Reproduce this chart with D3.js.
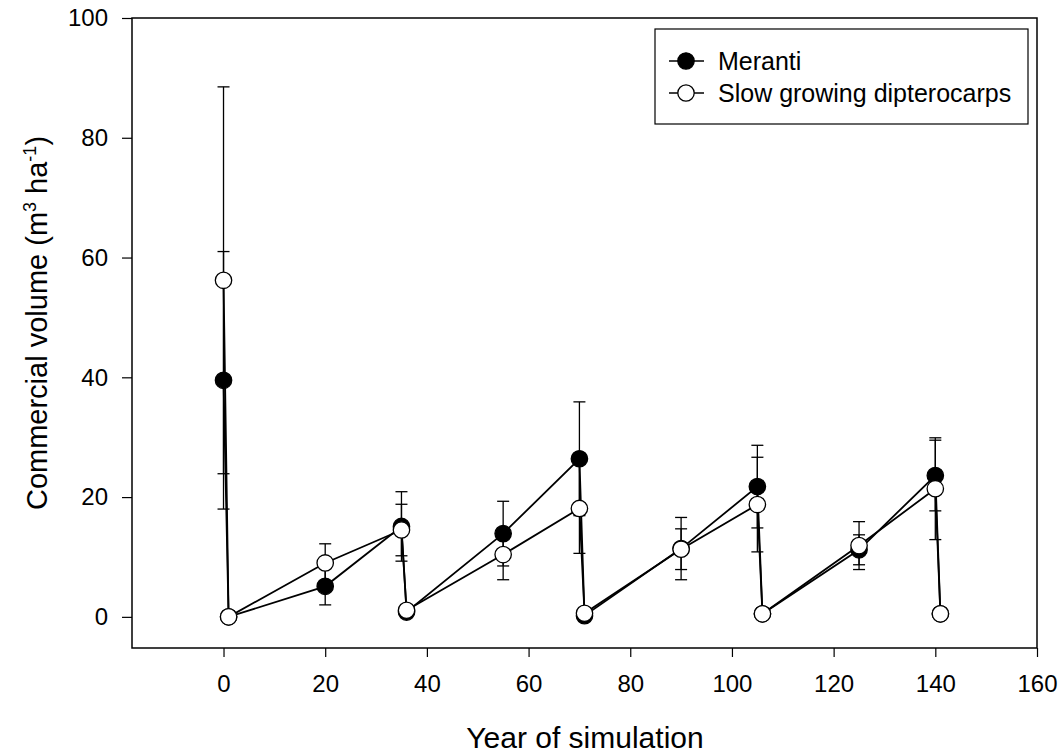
<!doctype html>
<html>
<head>
<meta charset="utf-8"/>
<script src="https://cdnjs.cloudflare.com/ajax/libs/d3/7.8.5/d3.min.js"></script>
<style>
  body { margin: 0; background: #fff; }
  text { font-family: "Liberation Sans", Arial, sans-serif; fill: #000; }
</style>
</head>
<body>
<svg width="1063" height="753"></svg>
<script>
// years of simulation (harvest cycles produce the drops)
var years = [0, 1, 20, 35, 36, 55, 70, 71, 90, 105, 106, 125, 140, 141];

var meranti    = [39.5, 0, 5.1, 15.1, 0.8, 13.9, 26.4, 0.2, 11.4, 21.75, 0.5, 11.2, 23.6, 0.5];
var merantiErr = [21.5, 0, 3.1, 5.8,  0,   5.4,  9.5,  0,   5.2,  6.9,   0,   2.5,  5.9,  0];

var slowGrow    = [56.2, 0, 9.0, 14.5, 1.1, 10.4, 18.1, 0.6, 11.3, 18.75, 0.5, 11.9, 21.4, 0.5];
var slowGrowErr = [32.3, 0, 3.2, 4.3,  0,   4.2,  7.5,  0,   3.4,  7.9,   0,   4.0,  8.5,  0];

var xTicks = [0, 20, 40, 60, 80, 100, 120, 140, 160];
var yTicks = [0, 20, 40, 60, 80, 100];

var seriesNames = ["Meranti", "Slow growing dipterocarps"];

var svg = d3.select("svg");
var m = { left: 132, right: 1037, top: 18, bottom: 648 };

var x = d3.scaleLinear().domain([-18, 160]).range([m.left, m.right]);
var y = d3.scaleLinear().domain([-5.2, 100]).range([m.bottom, m.top]);

// frame
svg.append("rect")
  .attr("x", m.left).attr("y", m.top)
  .attr("width", m.right - m.left).attr("height", m.bottom - m.top)
  .attr("fill", "none").attr("stroke", "#000").attr("stroke-width", 1.5);

// axes
var xAxis = svg.append("g")
  .attr("transform", "translate(0," + m.bottom + ")")
  .call(d3.axisBottom(x).tickValues(xTicks).tickSize(9).tickPadding(18).tickSizeOuter(0));
var yAxis = svg.append("g")
  .attr("transform", "translate(" + m.left + ",0)")
  .call(d3.axisLeft(y).tickValues(yTicks).tickSize(10).tickPadding(14).tickSizeOuter(0));
[xAxis, yAxis].forEach(function(g) {
  g.select(".domain").remove();
  g.selectAll("line").attr("stroke", "#000").attr("stroke-width", 1.2);
  g.selectAll("text").style("font-size", "24px")
    .style("font-family", "'Liberation Sans', Arial, sans-serif").attr("fill", "#000");
});

// axis titles
svg.append("text")
  .attr("x", 585).attr("y", 748)
  .attr("text-anchor", "middle").style("font-size", "30px")
  .text("Year of simulation");

var yt = svg.append("text")
  .attr("transform", "translate(47," + 323 + ") rotate(-90)")
  .attr("text-anchor", "middle").style("font-size", "29px");
yt.append("tspan").text("Commercial volume (m");
yt.append("tspan").attr("dy", -11).style("font-size", "18px").text("3");
yt.append("tspan").attr("dy", 11).text(" ha");
yt.append("tspan").attr("dy", -11).style("font-size", "18px").text("-1");
yt.append("tspan").attr("dy", 11).text(")");

var series = [
  { vals: meranti, err: merantiErr, fill: "#000" },
  { vals: slowGrow, err: slowGrowErr, fill: "#fff" }
];

var line = d3.line().x(function(d) { return x(d[0]); }).y(function(d) { return y(d[1]); });

// error bars
series.forEach(function(s) {
  var g = svg.append("g").attr("stroke", "#000").attr("stroke-width", 1.3);
  years.forEach(function(yr, i) {
    if (!s.err[i]) return;
    var cx = x(yr), hi = y(s.vals[i] + s.err[i]), lo = y(s.vals[i] - s.err[i]);
    g.append("line").attr("x1", cx).attr("x2", cx).attr("y1", hi).attr("y2", lo);
    g.append("line").attr("x1", cx - 6).attr("x2", cx + 6).attr("y1", hi).attr("y2", hi);
    g.append("line").attr("x1", cx - 6).attr("x2", cx + 6).attr("y1", lo).attr("y2", lo);
  });
});

// lines and markers
series.forEach(function(s) {
  var pts = years.map(function(yr, i) { return [yr, s.vals[i]]; });
  svg.append("path").datum(pts)
    .attr("d", line).attr("fill", "none")
    .attr("stroke", "#000").attr("stroke-width", 1.8);
});
series.forEach(function(s) {
  svg.append("g").selectAll("circle")
    .data(years.map(function(yr, i) { return [yr, s.vals[i]]; }))
    .enter().append("circle")
    .attr("cx", function(d) { return x(d[0]); })
    .attr("cy", function(d) { return y(d[1]); })
    .attr("r", 8.2)
    .attr("fill", s.fill).attr("stroke", "#000").attr("stroke-width", 1.3);
});

// legend
var lg = svg.append("g");
lg.append("rect").attr("x", 655).attr("y", 29).attr("width", 373).attr("height", 95)
  .attr("fill", "#fff").attr("stroke", "#000").attr("stroke-width", 1.2);
seriesNames.forEach(function(name, i) {
  var ly = 61 + i * 32;
  lg.append("line").attr("x1", 669).attr("x2", 704).attr("y1", ly).attr("y2", ly)
    .attr("stroke", "#000").attr("stroke-width", 1.5);
  lg.append("circle").attr("cx", 686).attr("cy", ly).attr("r", 8.2)
    .attr("fill", series[i].fill).attr("stroke", "#000").attr("stroke-width", 1.3);
  lg.append("text").attr("x", 718).attr("y", ly + 9).style("font-size", "25px").text(name);
});
</script>
</body>
</html>
